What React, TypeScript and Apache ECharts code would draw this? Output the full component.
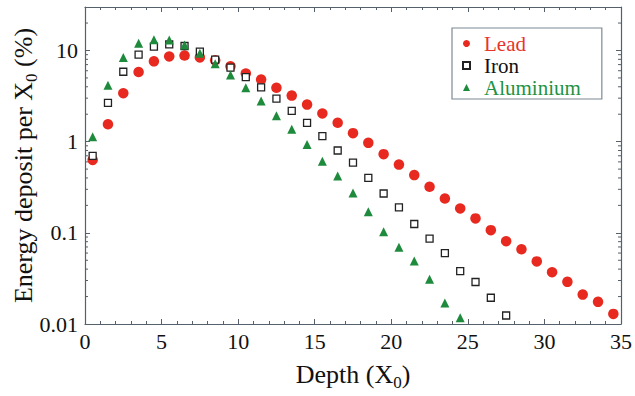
import React, { useEffect, useRef } from "react";
import * as echarts from "echarts";

const leadDepth = [0.5, 1.5, 2.5, 3.5, 4.5, 5.5, 6.5, 7.5, 8.5, 9.5, 10.5, 11.5, 12.5, 13.5, 14.5, 15.5, 16.5, 17.5, 18.5, 19.5, 20.5, 21.5, 22.5, 23.5, 24.5, 25.5, 26.5, 27.5, 28.5, 29.5, 30.5, 31.5, 32.5, 33.5, 34.5];
const leadValues = [0.63, 1.55, 3.4, 5.8, 7.6, 8.6, 8.8, 8.4, 7.8, 6.7, 5.6, 4.8, 3.9, 3.2, 2.55, 2.04, 1.61, 1.24, 0.97, 0.73, 0.56, 0.43, 0.32, 0.238, 0.185, 0.144, 0.107, 0.081, 0.066, 0.0486, 0.037, 0.029, 0.021, 0.0175, 0.0129];

const ironDepth = [0.5, 1.5, 2.5, 3.5, 4.5, 5.5, 6.5, 7.5, 8.5, 9.5, 10.5, 11.5, 12.5, 13.5, 14.5, 15.5, 16.5, 17.5, 18.5, 19.5, 20.5, 21.5, 22.5, 23.5, 24.5, 25.5, 26.5, 27.5];
const ironValues = [0.7, 2.66, 5.85, 9.0, 11.0, 11.7, 11.2, 9.7, 7.96, 6.5, 5.1, 3.95, 2.97, 2.18, 1.61, 1.15, 0.8, 0.59, 0.4, 0.27, 0.19, 0.125, 0.0865, 0.06, 0.038, 0.0289, 0.0194, 0.0124];

const aluDepth = [0.5, 1.5, 2.5, 3.5, 4.5, 5.5, 6.5, 7.5, 8.5, 9.5, 10.5, 11.5, 12.5, 13.5, 14.5, 15.5, 16.5, 17.5, 18.5, 19.5, 20.5, 21.5, 22.5, 23.5, 24.5];
const aluValues = [1.13, 4.15, 8.4, 12.0, 13.1, 13.0, 11.5, 9.3, 7.15, 5.4, 3.9, 2.8, 1.92, 1.37, 0.93, 0.61, 0.42, 0.274, 0.17, 0.103, 0.0695, 0.049, 0.031, 0.017, 0.0117];

const yMinorTicks = [0.02, 0.03, 0.04, 0.05, 0.06, 0.07, 0.08, 0.09, 0.2, 0.3, 0.4, 0.5, 0.6, 0.7, 0.8, 0.9, 2, 3, 4, 5, 6, 7, 8, 9, 20];

const FONT = "Liberation Serif";
const AXIS_COLOR = "#56606a";

export default function App() {
  const ref = useRef<HTMLDivElement>(null);
  useEffect(() => {
    if (!ref.current) return;
    const chart = echarts.init(ref.current, undefined, { renderer: "svg" });
    const xAxisCommon = {
      type: "value" as const,
      min: 0,
      max: 35,
      interval: 5,
      splitLine: { show: false },
      axisLine: { show: true, onZero: false, lineStyle: { color: AXIS_COLOR, width: 1.2 } },
      axisTick: { show: true, inside: true, length: 5, lineStyle: { color: AXIS_COLOR } },
      minorTick: { show: true, splitNumber: 5, length: 3, lineStyle: { color: AXIS_COLOR } },
    };
    const yAxisCommon = {
      type: "log" as const,
      logBase: 10,
      min: 0.01,
      max: 30,
      splitLine: { show: false },
      axisLine: { show: true, onZero: false, lineStyle: { color: AXIS_COLOR, width: 1.2 } },
      axisTick: { show: true, inside: true, length: 5, lineStyle: { color: AXIS_COLOR } },
    };
    const subStyle = { fontFamily: FONT, fontSize: 17, color: "#111", verticalAlign: "bottom", padding: [16, 0, 0, 0] };
    chart.setOption({
      animation: false,
      backgroundColor: "#ffffff",
      grid: { left: 85, right: 10, top: 7, bottom: 70, containLabel: false },
      legend: {
        orient: "vertical",
        left: 452,
        top: 28,
        padding: [5, 21, 1, 10],
        borderColor: "#7d8a94",
        borderWidth: 1.2,
        backgroundColor: "#ffffff",
        itemGap: 1,
        itemWidth: 7,
        itemHeight: 7,
        textStyle: { fontFamily: FONT, fontSize: 21, lineHeight: 21, padding: [0, 0, 0, 9] },
        data: [
          { name: "Lead", textStyle: { color: "#e8342c" } },
          { name: "Iron", textStyle: { color: "#111111" } },
          { name: "Aluminium", textStyle: { color: "#1f9244" } },
        ],
      },
      xAxis: [
        {
          ...xAxisCommon,
          position: "bottom",
          name: "Depth (X{sub|0})",
          nameLocation: "middle",
          nameGap: 34,
          nameMoveOverlap: false,
          nameTextStyle: {
            fontFamily: FONT,
            fontSize: 26,
            color: "#111",
            rich: { sub: subStyle },
          },
          axisLabel: { fontFamily: FONT, fontSize: 22, color: "#111", margin: 6 },
        },
        {
          ...xAxisCommon,
          position: "top",
          axisLabel: { show: false },
        },
      ],
      yAxis: [
        {
          ...yAxisCommon,
          position: "left",
          name: "Energy deposit per X{sub|0} (%)",
          nameLocation: "middle",
          nameGap: 45,
          nameRotate: 90,
          nameMoveOverlap: false,
          nameTextStyle: {
            fontFamily: FONT,
            fontSize: 26,
            color: "#111",
            rich: { sub: subStyle },
          },
          axisLabel: {
            fontFamily: FONT,
            fontSize: 22,
            color: "#111",
            margin: 7,
            showMaxLabel: false,
            formatter: (v: number) => (v >= 1 ? String(Math.round(v)) : String(Number(v.toPrecision(3)))),
          },
        },
        {
          ...yAxisCommon,
          position: "right",
          axisLabel: { show: false },
        },
      ],
      series: [
        {
          type: "custom",
          name: "minorTicks",
          xAxisIndex: 0,
          yAxisIndex: 0,
          silent: true,
          clip: false,
          data: yMinorTicks.map((v) => [0, v]),
          renderItem: (_params: any, api: any) => {
            const v = api.value(1);
            const pl = api.coord([0, v]);
            const pr = api.coord([35, v]);
            const style = { stroke: AXIS_COLOR, lineWidth: 1 };
            return {
              type: "group",
              children: [
                { type: "line", shape: { x1: pl[0], y1: pl[1], x2: pl[0] + 3, y2: pl[1] }, style },
                { type: "line", shape: { x1: pr[0], y1: pr[1], x2: pr[0] - 3, y2: pr[1] }, style },
              ],
            };
          },
        },
        {
          name: "Lead",
          type: "scatter",
          symbol: "circle",
          symbolSize: 10.5,
          itemStyle: { color: "#e8291f", opacity: 1 },
          data: leadDepth.map((d, i) => [d, leadValues[i]]),
          z: 2,
        },
        {
          name: "Iron",
          type: "scatter",
          symbol: "rect",
          symbolSize: 7,
          itemStyle: { color: "#ffffff", borderColor: "#222222", borderWidth: 1.3, opacity: 1 },
          data: ironDepth.map((d, i) => [d, ironValues[i]]),
          z: 3,
        },
        {
          name: "Aluminium",
          type: "scatter",
          symbol: "triangle",
          symbolSize: 9,
          itemStyle: { color: "#1e8a3c", opacity: 1 },
          data: aluDepth.map((d, i) => [d, aluValues[i]]),
          z: 4,
        },
      ],
    });
    return () => chart.dispose();
  }, []);
  return <div ref={ref} style={{ width: 635, height: 396, position: "absolute", left: 0, top: 0 }} />;
}
